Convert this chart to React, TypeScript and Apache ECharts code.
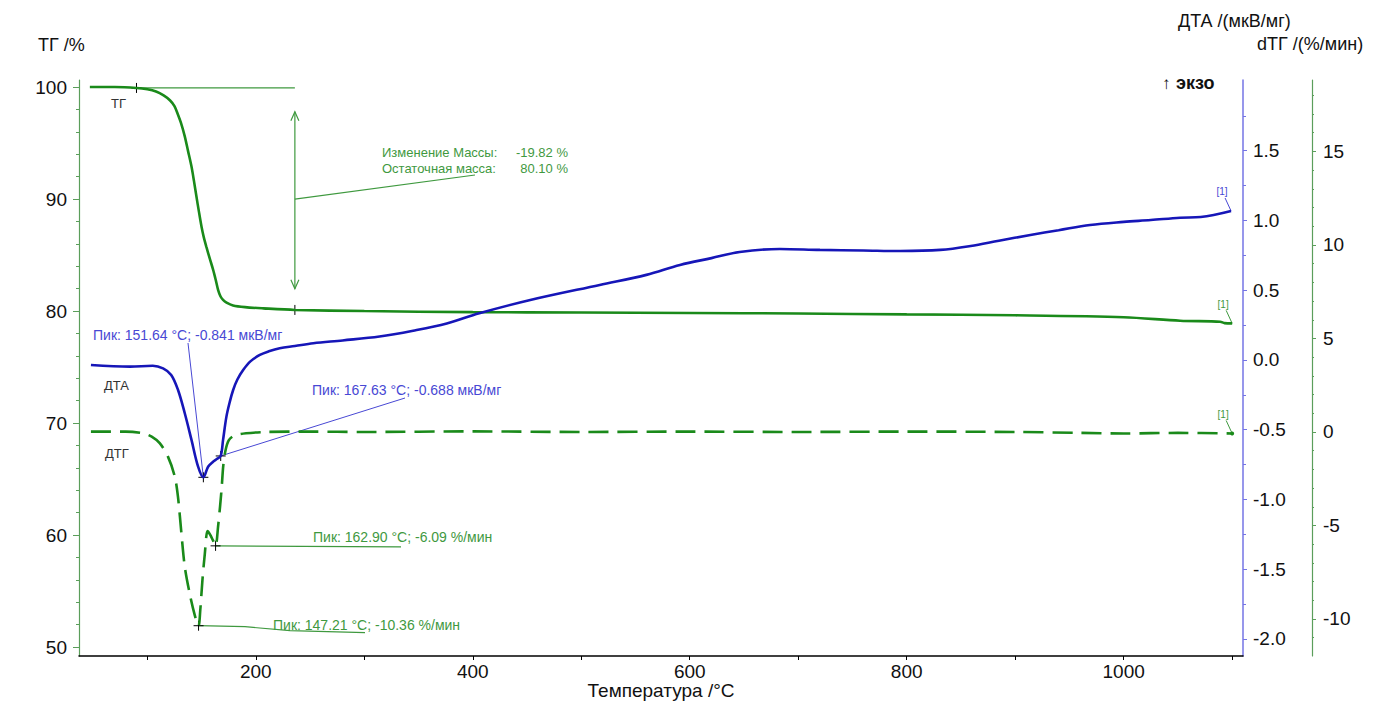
import React, { useEffect, useRef } from "react";
import * as echarts from "echarts";

// ---------- data ----------
const tgTemp = [47, 70, 90, 100, 108, 115, 121, 125, 128, 131, 134.5, 137.5, 140.7, 143, 145.3, 147.5, 150, 152, 154.5, 157.5, 160.6, 163, 165.2, 167.5, 169.8, 173, 179, 190, 207, 236, 300, 400, 500, 600, 700, 800, 900, 1000, 1052, 1089, 1093, 1100];
const tgValues = [100.0, 100.0, 99.92, 99.8, 99.6, 99.25, 98.8, 98.3, 97.6, 96.8, 95.6, 94.3, 92.9, 91.6, 90.2, 88.9, 87.5, 86.6, 85.7, 84.7, 83.7, 82.8, 81.9, 81.3, 81.0, 80.75, 80.5, 80.35, 80.24, 80.1, 80.0, 79.9, 79.87, 79.83, 79.78, 79.7, 79.62, 79.45, 79.14, 79.05, 78.92, 78.9];

const dtaTemp = [48, 84, 105, 114.5, 122, 128.3, 134.5, 140.7, 146.8, 151.64, 156, 160.6, 164, 167.63, 169.8, 172.9, 176, 179.1, 183, 188.3, 195, 203.7, 212, 222, 236, 253, 280, 314, 345, 376, 406, 453, 517, 560, 591, 620, 646, 683, 720, 760, 794, 831, 859, 885, 914, 940, 969, 1000, 1025, 1052, 1071, 1099];
const dtaValues = [-0.036, -0.048, -0.041, -0.06, -0.107, -0.215, -0.382, -0.573, -0.765, -0.841, -0.765, -0.729, -0.71, -0.688, -0.573, -0.406, -0.3, -0.215, -0.14, -0.072, -0.01, 0.036, 0.062, 0.084, 0.1, 0.12, 0.14, 0.168, 0.21, 0.262, 0.335, 0.43, 0.538, 0.61, 0.681, 0.73, 0.774, 0.796, 0.789, 0.785, 0.781, 0.789, 0.817, 0.855, 0.896, 0.93, 0.968, 0.99, 1.003, 1.02, 1.025, 1.068];

const dtgTemp = [48, 80, 96, 104, 111.4, 119, 125.3, 128.3, 131.4, 134.5, 139, 143.7, 147.21, 148.8, 150.8, 153, 155.5, 158, 160.5, 162.9, 165.2, 167, 168.5, 170, 172, 175, 180, 191, 210, 250, 300, 400, 500, 600, 700, 800, 900, 960, 1000, 1050, 1100];
const dtgValues = [0.02, 0.02, -0.07, -0.25, -0.6, -1.32, -2.39, -3.5, -5.42, -7.2, -8.63, -9.79, -10.36, -9.52, -7.91, -6.5, -5.3, -5.5, -5.8, -6.09, -5.06, -4.0, -3.0, -1.8, -1.0, -0.45, -0.2, -0.07, 0.0, 0.02, 0.0, 0.03, 0.0, 0.02, 0.0, 0.02, 0.0, -0.05, -0.08, -0.05, -0.08];

const xLabelValues = [200, 400, 600, 800, 1000];
const xTickValues = [100, 200, 300, 400, 500, 600, 700, 800, 900, 1000, 1100];
const tgLabelValues = [50, 60, 70, 80, 90, 100];
const tgMinorValues = [52, 54, 56, 58, 62, 64, 66, 68, 72, 74, 76, 78, 82, 84, 86, 88, 92, 94, 96, 98];
const dtaLabelValues = [-2, -1.5, -1, -0.5, 0, 0.5, 1, 1.5];
const dtaMinorValues = [-1.75, -1.25, -0.75, -0.25, 0.25, 0.75, 1.25, 1.75];
const dtgLabelValues = [-10, -5, 0, 5, 10, 15];
const dtgMinorValues = [-11, -9, -8, -7, -6, -4, -3, -2, -1, 1, 2, 3, 4, 6, 7, 8, 9, 11, 12, 13, 14, 16, 17, 18];

const tgMarks = [
  { t: 90, v: 99.92 },
  { t: 236, v: 80.1 },
];
const massChange = { label: "Изменение Массы:", value: "-19.82 %" };
const massResidual = { label: "Остаточная масса:", value: "80.10 %" };
const dtaPeaks = [
  { t: 151.64, v: -0.841, text: "Пик: 151.64 °C; -0.841 мкВ/мг" },
  { t: 167.63, v: -0.688, text: "Пик: 167.63 °C; -0.688 мкВ/мг" },
];
const dtgPeaks = [
  { t: 147.21, v: -10.36, text: "Пик: 147.21 °C; -10.36 %/мин" },
  { t: 162.9, v: -6.09, text: "Пик: 162.90 °C; -6.09 %/мин" },
];

// ---------- styles ----------
const FONT = '"Liberation Sans", Arial, sans-serif';
const TG_COLOR = "#1a8a1a";
const DTA_COLOR = "#1616b8";
const GREEN_AXIS = "#5b9e5b";
const BLUE_AXIS = "#7474e4";
const GREEN_TEXT = "#3f993f";
const BLUE_TEXT = "#4848d4";

const X_MIN = 37;
const X_MAX = 1110;
const TG_MIN = 49.2;
const TG_MAX = 100.63;
const DTA_MIN = -2.122;
const DTA_MAX = 2.007;
const DTG_MIN = -11.98;
const DTG_MAX = 18.82;

const labelStyle = { fontSize: 19, color: "#111", fontFamily: FONT };

function makeOption(): any {
  const pairs = (xs: number[], ys: number[]) => xs.map((x, i) => [x, ys[i]]);
  return {
    animation: false,
    backgroundColor: "#ffffff",
    textStyle: { fontFamily: FONT },
    grid: { left: 79, right: 142, top: 80, bottom: 67, containLabel: false, outerBoundsMode: "none" },
    xAxis: {
      type: "value",
      min: X_MIN,
      max: X_MAX,
      axisLine: { show: true, onZero: false, lineStyle: { color: "#000", width: 1.5 } },
      axisTick: { show: true, customValues: xTickValues, length: 4, lineStyle: { color: "#000" } },
      axisLabel: { ...labelStyle, customValues: xLabelValues, margin: 6, formatter: (v: number) => String(v) },
      splitLine: { show: false },
    },
    yAxis: [
      {
        type: "value",
        position: "left",
        min: TG_MIN,
        max: TG_MAX,
        axisLine: { show: true, onZero: false, lineStyle: { color: GREEN_AXIS, width: 1.2 } },
        axisTick: { show: true, customValues: tgLabelValues, length: 6, lineStyle: { color: GREEN_AXIS } },
        axisLabel: { ...labelStyle, customValues: tgLabelValues, margin: 12, formatter: (v: number) => String(v) },
        splitLine: { show: false },
      },
      {
        type: "value",
        position: "left",
        offset: 0,
        min: TG_MIN,
        max: TG_MAX,
        axisLine: { show: false },
        axisTick: { show: true, customValues: tgMinorValues, length: 3, lineStyle: { color: GREEN_AXIS } },
        axisLabel: { show: false },
        splitLine: { show: false },
      },
      {
        type: "value",
        position: "right",
        offset: 0,
        min: DTA_MIN,
        max: DTA_MAX,
        axisLine: { show: true, onZero: false, lineStyle: { color: BLUE_AXIS, width: 1.5 } },
        axisTick: { show: true, customValues: dtaLabelValues, length: 4, lineStyle: { color: BLUE_AXIS } },
        axisLabel: { ...labelStyle, customValues: dtaLabelValues, margin: 10, formatter: (v: number) => v.toFixed(1) },
        splitLine: { show: false },
      },
      {
        type: "value",
        position: "right",
        offset: 0,
        min: DTA_MIN,
        max: DTA_MAX,
        axisLine: { show: false },
        axisTick: { show: true, customValues: dtaMinorValues, length: 3, lineStyle: { color: BLUE_AXIS } },
        axisLabel: { show: false },
        splitLine: { show: false },
      },
      {
        type: "value",
        position: "right",
        offset: 69,
        min: DTG_MIN,
        max: DTG_MAX,
        axisLine: { show: true, onZero: false, lineStyle: { color: GREEN_AXIS, width: 1.2 } },
        axisTick: { show: true, customValues: dtgLabelValues, length: 4, lineStyle: { color: GREEN_AXIS } },
        axisLabel: { ...labelStyle, customValues: dtgLabelValues, margin: 11, formatter: (v: number) => String(v) },
        splitLine: { show: false },
      },
      {
        type: "value",
        position: "right",
        offset: 69,
        min: DTG_MIN,
        max: DTG_MAX,
        axisLine: { show: false },
        axisTick: { show: true, customValues: dtgMinorValues, length: 2, lineStyle: { color: GREEN_AXIS } },
        axisLabel: { show: false },
        splitLine: { show: false },
      },
    ],
    series: [
      {
        name: "ТГ",
        type: "line",
        yAxisIndex: 0,
        data: pairs(tgTemp, tgValues),
        showSymbol: false,
        smooth: 0.3,
        lineStyle: { color: TG_COLOR, width: 2.6 },
        silent: true,
      },
      {
        name: "ДТА",
        type: "line",
        yAxisIndex: 2,
        data: pairs(dtaTemp, dtaValues),
        showSymbol: false,
        smooth: 0.35,
        lineStyle: { color: DTA_COLOR, width: 2.6 },
        silent: true,
      },
      {
        name: "ДТГ",
        type: "line",
        yAxisIndex: 4,
        data: pairs(dtgTemp, dtgValues),
        showSymbol: false,
        smooth: 0.3,
        lineStyle: { color: TG_COLOR, width: 2.6, type: [20, 9] },
        silent: true,
      },
    ],
  };
}

function txt(x: number, y: number, text: string, size: number, fill: string, align = "left", bold = false): any {
  return {
    type: "text",
    x,
    y,
    silent: true,
    style: {
      text,
      fill,
      font: `${bold ? "bold " : ""}${size}px ${FONT}`,
      align,
      textAlign: align,
      verticalAlign: "middle",
      textVerticalAlign: "middle",
    },
  };
}

function ln(x1: number, y1: number, x2: number, y2: number, stroke: string, w = 1): any {
  return { type: "line", silent: true, shape: { x1, y1, x2, y2 }, style: { stroke, lineWidth: w } };
}

function poly(points: number[][], stroke: string, w = 1): any {
  return { type: "polyline", silent: true, shape: { points }, style: { stroke, fill: "none", lineWidth: w } };
}

function cross(p: number[]): any[] {
  const s = 5;
  return [ln(p[0] - s, p[1], p[0] + s, p[1], "#000", 1), ln(p[0], p[1] - s, p[0], p[1] + s, "#000", 1)];
}

function buildGraphics(chart: any): any[] {
  const px = (t: number, v: number, yi: number) =>
    chart.convertToPixel({ xAxisIndex: 0, yAxisIndex: yi }, [t, v]) as number[];
  const g: any[] = [];

  // titles
  g.push(txt(38, 45, "ТГ /%", 18, "#111"));
  g.push(txt(1178, 21, "ДТА /(мкВ/мг)", 18, "#111"));
  g.push(txt(1257, 44, "dТГ /(%/мин)", 18, "#111"));
  g.push(txt(1162, 83, "↑", 17, "#111"));
  g.push(txt(1176, 83, "экзо", 18, "#111", "left", true));
  g.push(txt(661, 690, "Температура /°C", 19, "#111", "center"));

  // curve names
  g.push(txt(111, 103, "ТГ", 13, "#333"));
  g.push(txt(104, 385, "ДТА", 13, "#333"));
  g.push(txt(105, 453, "ДТГ", 13, "#333"));

  // TG mass change annotation
  const a = px(tgMarks[0].t, tgMarks[0].v, 0);
  const b = px(tgMarks[1].t, tgMarks[1].v, 0);
  g.push(ln(a[0], a[1], b[0], a[1], GREEN_TEXT, 1.2));
  const top = px(tgMarks[1].t, 97.8, 0);
  const bot = px(tgMarks[1].t, 82.0, 0);
  const mid = px(tgMarks[1].t, 90.0, 0);
  g.push(ln(top[0], top[1], bot[0], bot[1], GREEN_TEXT, 1.2));
  g.push(poly([[top[0] - 4, top[1] + 9], [top[0], top[1]], [top[0] + 4, top[1] + 9]], GREEN_TEXT, 1.2));
  g.push(poly([[bot[0] - 4, bot[1] - 9], [bot[0], bot[1]], [bot[0] + 4, bot[1] - 9]], GREEN_TEXT, 1.2));
  g.push(ln(mid[0], mid[1], 475, 175, GREEN_TEXT, 1.2));
  g.push(txt(382, 152, massChange.label, 13, GREEN_TEXT));
  g.push(txt(568, 152, massChange.value, 13, GREEN_TEXT, "right"));
  g.push(txt(382, 168, massResidual.label, 13, GREEN_TEXT));
  g.push(txt(568, 168, massResidual.value, 13, GREEN_TEXT, "right"));
  g.push(...cross(a), ...cross(b));

  // DTA peaks
  const d1 = px(dtaPeaks[0].t, dtaPeaks[0].v, 2);
  const d2 = px(dtaPeaks[1].t, dtaPeaks[1].v, 2);
  g.push(ln(d1[0], d1[1], 188, 343, BLUE_TEXT, 1));
  g.push(ln(d2[0], d2[1], 405, 398, BLUE_TEXT, 1));
  g.push(txt(93, 335, dtaPeaks[0].text, 14, BLUE_TEXT));
  g.push(txt(312, 390, dtaPeaks[1].text, 14, BLUE_TEXT));
  g.push(...cross(d1), ...cross(d2));

  // DTG peaks
  const m1 = px(dtgPeaks[0].t, dtgPeaks[0].v, 4);
  const m2 = px(dtgPeaks[1].t, dtgPeaks[1].v, 4);
  g.push(poly([[m1[0], m1[1]], [245, m1[1] + 1], [290, m1[1] + 5], [365, m1[1] + 7]], GREEN_TEXT, 1.2));
  g.push(ln(m2[0], m2[1], 401, m2[1] + 1, GREEN_TEXT, 1.2));
  g.push(txt(273, 625, dtgPeaks[0].text, 14, GREEN_TEXT));
  g.push(txt(313, 537, dtgPeaks[1].text, 14, GREEN_TEXT));
  g.push(...cross(m1), ...cross(m2));

  // [1] end markers
  const eDta = px(dtaTemp[dtaTemp.length - 1], dtaValues[dtaValues.length - 1], 2);
  const eTg = px(tgTemp[tgTemp.length - 1], tgValues[tgValues.length - 1], 0);
  const eDtg = px(dtgTemp[dtgTemp.length - 1], dtgValues[dtgValues.length - 1], 4);
  const ends: [number[], string][] = [
    [eDta, BLUE_TEXT],
    [eTg, GREEN_TEXT],
    [eDtg, GREEN_TEXT],
  ];
  ends.forEach(([e, c]) => {
    g.push(txt(e[0] - 9, e[1] - 19, "[1]", 10, c, "center"));
    g.push(ln(e[0] - 6, e[1] - 13, e[0], e[1], c, 1));
  });
  g.push({ type: "circle", silent: true, shape: { cx: eDtg[0], cy: eDtg[1], r: 2 }, style: { fill: TG_COLOR } });

  return g;
}

export default function App() {
  const ref = useRef<HTMLDivElement>(null);
  useEffect(() => {
    if (!ref.current) return;
    document.body.style.margin = "0";
    const chart = echarts.init(ref.current, null, { renderer: "svg" });
    chart.setOption(makeOption());
    chart.setOption({ graphic: buildGraphics(chart) });
    return () => chart.dispose();
  }, []);
  return (
    <div
      ref={ref}
      style={{ position: "fixed", left: 0, top: 0, width: 1385, height: 723, background: "#fff" }}
    />
  );
}
